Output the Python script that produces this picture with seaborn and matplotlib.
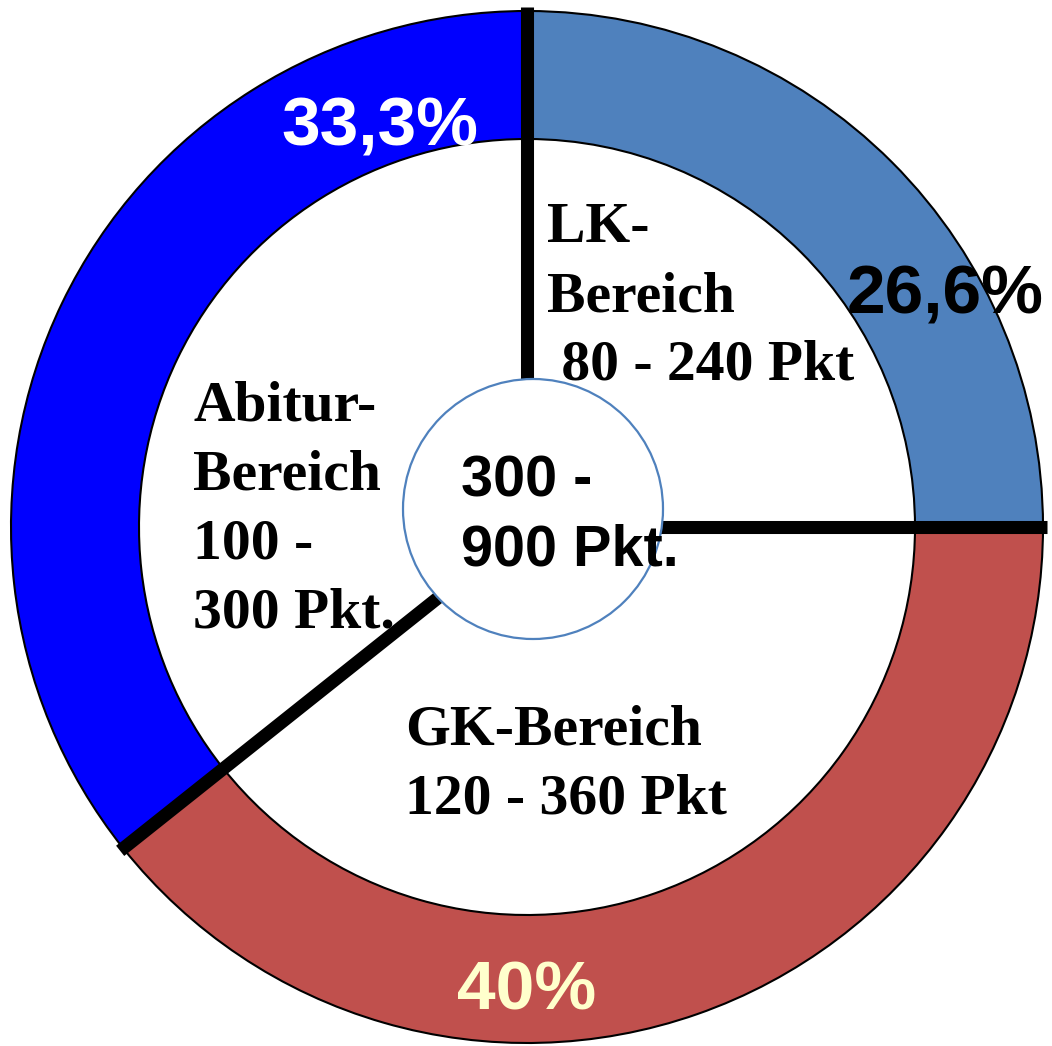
import numpy as np
import seaborn as sns
import matplotlib.pyplot as plt
from matplotlib.patches import Circle

# data (wedge shares as drawn, labels as printed)
bereiche = ["LK", "GK", "Abitur"]
anteile = [25.0, 39.3, 35.7]
prozent_labels = ["26,6%", "40%", "33,3%"]
bereich_texte = ["LK-\nBereich\n 80 - 240 Pkt",
                 "GK-Bereich\n120 - 360 Pkt",
                 "Abitur-\nBereich\n100 -\n300 Pkt."]
gesamt_text = "300 -\n900 Pkt."
farben = ["#4F81BD", "#C0504D", "#0000FF"]
prozent_farben = ["black", "#FFFFCC", "white"]

sns.set_theme(style="white")
plt.rcParams["font.family"] = ["Liberation Sans", "DejaVu Sans"]
plt.rcParams["text.color"] = "black"

W, H = 1052, 1046
fig = plt.figure(figsize=(W / 100, H / 100), dpi=100)
ax = fig.add_axes([0, 0, 1, 1])

cx, cy = 527, H - 527
r_out, ring = 516, 128

ax.pie(anteile, colors=farben, startangle=90, counterclock=False,
       center=(cx, cy), radius=r_out, frame=True,
       wedgeprops=dict(width=ring, edgecolor="black", linewidth=1.5))
ax.set_xlim(0, W)
ax.set_ylim(0, H)
ax.set_aspect("equal")
ax.axis("off")

# black separator lines along the wedge borders
grenzen = 90 - 360 * np.cumsum([0] + anteile[:-1]) / sum(anteile)
for g in grenzen:
    t = np.deg2rad(g)
    ax.plot([cx + 90 * np.cos(t), cx + 520 * np.cos(t)],
            [cy + 90 * np.sin(t), cy + 520 * np.sin(t)],
            color="black", lw=9.4, solid_capstyle="butt", zorder=3)

# inner circle
ax.add_patch(Circle((533, H - 509), 130, facecolor="white",
                    edgecolor="#4F81BD", lw=1.6, zorder=4))
ax.text(461, H - 566, gesamt_text, fontsize=41.5, fontweight="bold",
        color="black", ha="left", va="baseline", linespacing=1.36, zorder=5,
        family=["Liberation Sans"])

# area descriptions (anchored at the baseline of the last line)
serif = dict(fontsize=41.5, fontweight="bold", color="black", ha="left",
             va="baseline", linespacing=1.42, family=["Liberation Serif"],
             zorder=5)
ax.text(547, H - 380, bereich_texte[0], **serif)
ax.text(405, H - 813, bereich_texte[1], **serif)
ax.text(193, H - 627, bereich_texte[2], **serif)

# percentages
pos = [(945, 288), (527, 985), (380, 120)]
for (x, y), lab, c in zip(pos, prozent_labels, prozent_farben):
    ax.text(x, H - y, lab, fontsize=50, fontweight="bold", color=c,
            ha="center", va="center_baseline", zorder=5)

fig.savefig("out.png", dpi=100)
